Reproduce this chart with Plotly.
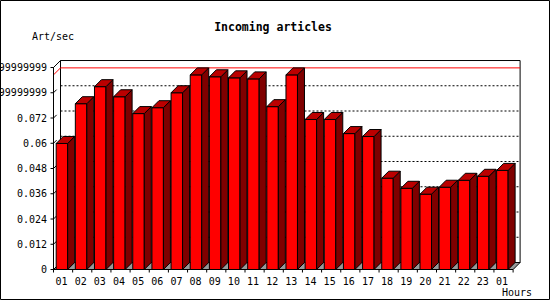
import plotly.graph_objects as go

# ---- data ----
hours = ["01", "02", "03", "04", "05", "06", "07", "08", "09", "10", "11", "12",
         "13", "14", "15", "16", "17", "18", "19", "20", "21", "22", "23", "01"]
art_per_sec = [0.0599, 0.0788, 0.0869, 0.0821, 0.0741, 0.0769, 0.0840, 0.0925,
               0.0916, 0.0911, 0.0906, 0.0774, 0.0925, 0.0713, 0.0713, 0.0646,
               0.0632, 0.0434, 0.0386, 0.0358, 0.0391, 0.0424, 0.0443, 0.0471]
y_tick_values = [0, 0.012, 0.024, 0.036, 0.048, 0.06, 0.072, 0.084, 0.096]
y_tick_labels = ["0", "0.012", "0.024", "0.036", "0.048", "0.06", "0.072",
                 "0.08399999999", "0.09599999999"]

# ---- geometry (pixel mapping of the front axes) ----
W, H = 550, 300
ML, MR, MT, MB = 48, 24, 54, 26
PW, PH = W - ML - MR, H - MT - MB
AX0, AY0 = 53.5, 269.5      # pixel of front-left axis / zero level
C = 19.15                   # px per category
K = 2104.0                  # px per unit value
DEPTH = 7
dx, dy = DEPTH / C, DEPTH / K

x_range = [-0.5 + (ML - AX0) / C, -0.5 + (W - MR - AX0) / C]
y_range = [(AY0 - (H - MB)) / K, (AY0 - MT) / K]

n = len(art_per_sec)
xl, xr = -0.5, n - 0.5
ytop = y_tick_values[-1]
BAR_W, BAR_OFF = 0.6, -0.36

FONT = "DejaVu Sans Mono"
RED, TOP, SIDE, FLOOR = "#ff0000", "#bb0000", "#7f0000", "#999999"

shapes = []

def seg(x0, y0, x1, y1, color="black", dash=None, width=1):
    ln = dict(color=color, width=width)
    if dash:
        ln["dash"] = dash
    shapes.append(dict(type="line", xref="x", yref="y", x0=x0, y0=y0, x1=x1, y1=y1,
                       line=ln, layer="below"))

def poly(pts, fill, color="black"):
    path = "M " + " L ".join(f"{x},{y}" for x, y in pts) + " Z"
    shapes.append(dict(type="path", xref="x", yref="y", path=path, fillcolor=fill,
                       line=dict(color=color, width=1), layer="below"))

# back plane
poly([(xl + dx, dy), (xr + dx, dy), (xr + dx, ytop + dy), (xl + dx, ytop + dy)], "white")
# left wall
poly([(xl, 0), (xl + dx, dy), (xl + dx, ytop + dy), (xl, ytop)], "white")
# grid lines on back plane
for v in y_tick_values[1:-1]:
    seg(xl + dx, v + dy, xr + dx, v + dy, dash="2px,2px")
    seg(xl, v, xl + dx * 0.45, v + dy * 0.45)
# max line
vmax = max(art_per_sec)
seg(xl, vmax, xl + dx, vmax + dy, color=RED)
seg(xl + dx, vmax + dy, xr + dx, vmax + dy, color=RED)
# floor
poly([(xl, 0), (xr, 0), (xr + dx, dy), (xl + dx, dy)], FLOOR)
# front axes
seg(xl, 0, xl, ytop)
seg(xl, 0, xr, 0)
for v in y_tick_values:
    seg(xl - 3 / C, v, xl, v)
for i in range(n + 1):
    seg(i - 0.5, 0, i - 0.5, -3 / K)

# outer border (paper coords)
shapes.append(dict(type="rect", xref="paper", yref="paper",
                   x0=(0.5 - ML) / PW, x1=(W - 0.5 - ML) / PW,
                   y0=(MB - (H - 0.5)) / PH * -1 if False else -(MB - 0.5) / PH,
                   y1=(H - MB - 0.5) / PH,
                   line=dict(color="black", width=1), layer="below"))

# side and top faces
side_x, side_y, top_x, top_y = [], [], [], []
for i, v in enumerate(art_per_sec):
    l = i + BAR_OFF
    r = l + BAR_W
    side_x += [r, r, r + dx, r + dx, r, None]
    side_y += [0, v, v + dy, dy, 0, None]
    top_x += [l, l + dx, r + dx, r, l, None]
    top_y += [v, v + dy, v + dy, v, v, None]

fig = go.Figure()
fig.add_trace(go.Bar(x=list(range(n)), y=art_per_sec, width=BAR_W, offset=BAR_OFF,
                     marker=dict(color=RED, line=dict(color="black", width=1)),
                     hoverinfo="skip"))
fig.add_trace(go.Scatter(x=side_x, y=side_y, mode="lines", fill="toself",
                         fillcolor=SIDE, line=dict(color="black", width=1),
                         hoverinfo="skip"))
fig.add_trace(go.Scatter(x=top_x, y=top_y, mode="lines", fill="toself",
                         fillcolor=TOP, line=dict(color="black", width=1),
                         hoverinfo="skip"))

def px_x(p):
    return (p - ML) / PW

def px_y(p):
    return (H - MB - p) / PH

fig.update_layout(
    template="none",
    width=W, height=H,
    margin=dict(l=ML, r=MR, t=MT, b=MB, pad=0),
    paper_bgcolor="white", plot_bgcolor="white",
    showlegend=False,
    shapes=shapes,
    title=dict(text="<b>Incoming articles</b>", x=273 / W, xref="container",
               y=1 - 26.5 / H, yref="container", xanchor="center", yanchor="middle",
               font=dict(family=FONT, size=11.5, color="black")),
    xaxis=dict(range=x_range, showgrid=False, zeroline=False, showline=False,
               tickmode="array", tickvals=[i - 0.08 for i in range(n)], ticktext=hours,
               ticks="", tickfont=dict(family=FONT, size=10, color="black"),
               automargin=False, fixedrange=True),
    yaxis=dict(range=y_range, showgrid=False, zeroline=False, showline=False,
               tickmode="array", tickvals=y_tick_values, ticktext=y_tick_labels,
               ticks="", tickfont=dict(family=FONT, size=10, color="black"),
               automargin=False, fixedrange=True),
    annotations=[
        dict(text="Art/sec", xref="paper", yref="paper", x=px_x(30), y=px_y(37),
             xanchor="left", yanchor="middle", showarrow=False,
             font=dict(family=FONT, size=10, color="black")),
        dict(text="Hours", xref="paper", yref="paper", x=px_x(534), y=px_y(292),
             xanchor="right", yanchor="middle", showarrow=False,
             font=dict(family=FONT, size=10, color="black")),
    ],
)

fig.write_html("out.html")
